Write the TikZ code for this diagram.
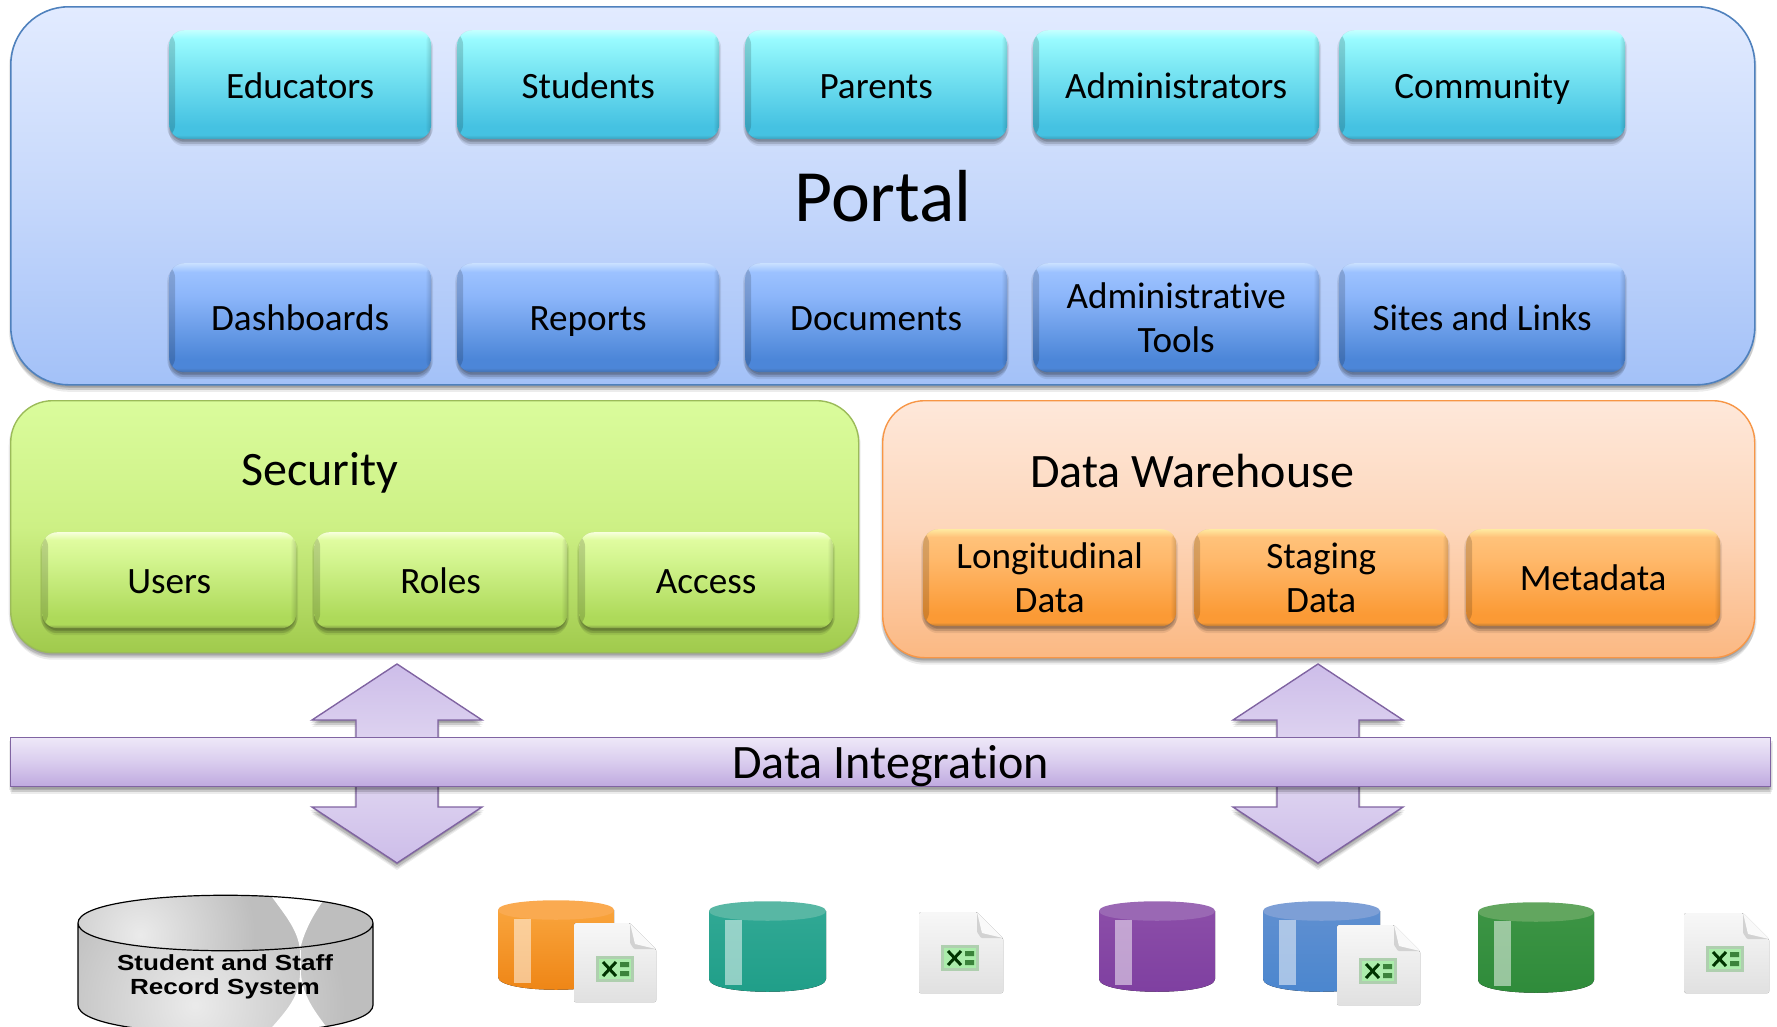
\documentclass[tikz,border=0pt]{standalone}
\usepackage{fontspec}
\setmainfont[Ligatures=NoCommon]{Carlito}
\newfontfamily\arialfont[FakeStretch=1.19]{Liberation Sans}
\usetikzlibrary{shadows,calc,positioning,fadings}
\definecolor{portalA}{HTML}{E2EBFF}\definecolor{portalB}{HTML}{C6D8FB}\definecolor{portalC}{HTML}{A3C1F8}
\pgfdeclareverticalshading{portalshade}{100bp}{color(0bp)=(portalC);color(25bp)=(portalC);color(50bp)=(portalB);color(75bp)=(portalA);color(100bp)=(portalA)}
\newcommand{\boxshade}[6]{%
 \definecolor{#1a}{HTML}{#2}\definecolor{#1b}{HTML}{#3}\definecolor{#1c}{HTML}{#4}\definecolor{#1d}{HTML}{#5}\definecolor{#1e}{HTML}{#6}%
 \pgfdeclareverticalshading{#1}{100bp}{color(0bp)=(#1e);color(25bp)=(#1e);color(27bp)=(#1d);color(31bp)=(#1d);color(60bp)=(#1c);color(71bp)=(#1b);color(75bp)=(#1a);color(100bp)=(#1a)}}
\boxshade{cyanshade}{C4FFFF}{99FBFF}{80EAF5}{45C2E2}{3BA0BC}
\boxshade{blueshade}{C9E0FF}{9CC2FF}{8CB6FA}{4C86D8}{4270AE}
\boxshade{greenshade}{F8FFDC}{E0FCA0}{D2F48E}{AEDA5A}{809C44}
\boxshade{orangeshade}{FFE9A0}{FFC27A}{FFB96C}{FB9A35}{B87A36}
\definecolor{secA}{HTML}{DAFC9C}\definecolor{secB}{HTML}{CDF085}\definecolor{secC}{HTML}{A0CA4C}
\pgfdeclareverticalshading{secshade}{100bp}{color(0bp)=(secC);color(25bp)=(secC);color(50bp)=(secB);color(75bp)=(secA);color(100bp)=(secA)}
\definecolor{dwA}{HTML}{FEE8DA}\definecolor{dwB}{HTML}{FDD6BA}\definecolor{dwC}{HTML}{FBB882}
\pgfdeclareverticalshading{dwshade}{100bp}{color(0bp)=(dwC);color(25bp)=(dwC);color(50bp)=(dwB);color(75bp)=(dwA);color(100bp)=(dwA)}
\definecolor{barA}{HTML}{EEE8F8}\definecolor{barB}{HTML}{D9CCEE}\definecolor{barC}{HTML}{BFA9DF}
\pgfdeclareverticalshading{barshade}{100bp}{color(0bp)=(barC);color(25bp)=(barC);color(50bp)=(barB);color(75bp)=(barA);color(100bp)=(barA)}
\definecolor{arrowA}{HTML}{CDBDE9}\definecolor{arrowB}{HTML}{E2D9F2}
\pgfdeclareverticalshading{arrowshade}{100bp}{color(0bp)=(arrowA);color(25bp)=(arrowA);color(50bp)=(arrowB);color(75bp)=(arrowA);color(100bp)=(arrowA)}
\definecolor{edgeArrow}{HTML}{8064A2}
\definecolor{portalEdge}{HTML}{4F81BD}
\definecolor{secEdge}{HTML}{9BBB59}
\definecolor{dwEdge}{HTML}{F79646}
\definecolor{cylgray}{HTML}{BEBEBE}
\newcommand{\tstrut}{\rule[-8pt]{0pt}{44pt}}
\newcommand{\ustrut}{\rule[-9pt]{0pt}{44pt}}
\tikzset{
 softlayer/.style 2 args={general shadow={shadow xshift=#1,shadow yshift=#2,fill=black,opacity=.075}},
 softshadow/.style={softlayer={0pt}{-2pt},softlayer={-2pt}{-3pt},softlayer={2pt}{-3pt},softlayer={-1pt}{-5pt},softlayer={1pt}{-5pt},softlayer={0pt}{-7pt}},
 panel/.style={rectangle,rounded corners=58pt,anchor=north west,inner sep=0pt,softshadow},
 tile/.style={rectangle,rounded corners=15pt,anchor=north west,inner sep=0pt,align=center,
   font=\fontsize{37.3}{44}\selectfont,softshadow,
   path picture={
     \fill[black,opacity=.16,path fading=east] (path picture bounding box.south west) rectangle ([xshift=6pt]path picture bounding box.north west);
     \fill[black,opacity=.16,path fading=west] (path picture bounding box.south east) rectangle ([xshift=-6pt]path picture bounding box.north east);
   }},
 cyantile/.style={tile,shading=cyanshade},
 bluetile/.style={tile,shading=blueshade},
 greentile/.style={tile,shading=greenshade},
 orangetile/.style={tile,shading=orangeshade},
 headline/.style={font=\fontsize{48.2}{54}\selectfont,anchor=base},
}
\newcommand{\tilebox}[7]{% style,name,x0,y0,x1,y1,text
 \node[#1,minimum width=#5bp-#3bp,minimum height=#6bp-#4bp] (#2) at (#3,#4) {#7};}
% coloured drum: x0 x1 ytop ybot, bottom colour, upper colour, top colour
\newcommand{\drum}[7]{%
 \definecolor{drumL}{HTML}{#5}\definecolor{drumR}{HTML}{#6}\definecolor{drumT}{HTML}{#7}%
 \fill[top color=drumR,bottom color=drumL]
   (#1,#3+10) -- (#1,#4-13) .. controls (#1,#4+4) and (#2,#4+4) .. (#2,#4-13) -- (#2,#3+10) -- cycle;
 \fill[drumT] (#1,#3+10) .. controls (#1,#3-3) and (#2,#3-3) .. (#2,#3+10)
   .. controls (#2,#3+23) and (#1,#3+23) .. (#1,#3+10) -- cycle;
 \fill[white,opacity=.5] (#1+16,#3+19) rectangle (#1+33,#4-7);
}
% file icon: x0 y0 x1 y1
\newcommand{\xlfile}[4]{%
 \fill[top color=gray!6,bottom color=gray!24,rounded corners=1.5pt]
   (#1,#2) -- (#3-26,#2) -- (#3,#2+26) -- (#3,#4) -- (#1,#4) -- cycle;
 \fill[gray!35,rounded corners=1pt] (#3-26,#2) -- (#3-26,#2+20) -- (#3-22,#2+26) -- (#3,#2+26) -- cycle;
 \fill[gray!5] (#3-26,#2) -- (#3-21,#2+21) -- (#3,#2+26) -- cycle;
 \fill[green!25!gray!50] (#1+22,#2+33) rectangle (#1+60,#2+59);
 \fill[green!30!white!85!gray] (#1+25,#2+36) rectangle (#1+57,#2+56);
 \draw[green!20!black,line width=3pt] (#1+29,#2+39) -- (#1+42,#2+53) (#1+42,#2+39) -- (#1+29,#2+53);
 \fill[green!30!black,opacity=.65] (#1+46,#2+39) rectangle (#1+55,#2+44) (#1+46,#2+48) rectangle (#1+55,#2+53);
}
\begin{document}
\begin{tikzpicture}[x=1bp,y=-1bp]
% Portal
\tilebox{panel,shading=portalshade,draw=portalEdge,line width=1.6pt}{portal}{10}{6}{1754}{384}{}
\tilebox{cyantile}{educators}{169}{30}{431}{139}{\tstrut Educators}
\tilebox{cyantile}{students}{457}{30}{719}{139}{\tstrut Students}
\tilebox{cyantile}{parents}{745}{30}{1007}{139}{\tstrut Parents}
\tilebox{cyantile}{admins}{1033}{30}{1319}{139}{\tstrut Administrators}
\tilebox{cyantile}{community}{1339}{30}{1625}{139}{\tstrut Community}
\node[font=\fontsize{74}{80}\selectfont,anchor=base] (portaltitle) at (883,221) {Portal};
\tilebox{bluetile}{dashboards}{169}{263}{431}{372}{\ustrut Dashboards}
\tilebox{bluetile}{reports}{457}{263}{719}{372}{\ustrut Reports}
\tilebox{bluetile}{documents}{745}{263}{1007}{372}{\ustrut Documents}
\tilebox{bluetile}{admintools}{1033}{263}{1319}{372}{\ustrut Administrative\\\ustrut Tools}
\tilebox{bluetile}{sites}{1339}{263}{1625}{372}{\ustrut Sites and Links}
% Security
\tilebox{panel,rounded corners=42pt,shading=secshade,draw=secEdge,line width=1.4pt}{security}{10}{400}{858}{652}{}
\node[headline] (sectitle) at (320,485) {Security};
\tilebox{greentile}{users}{42}{532}{296}{628}{\ustrut Users}
\tilebox{greentile}{roles}{314}{532}{567}{628}{\ustrut Roles}
\tilebox{greentile}{access}{579}{532}{833}{628}{\ustrut Access}
% Data Warehouse
\tilebox{panel,rounded corners=42pt,shading=dwshade,draw=dwEdge,line width=1.4pt}{warehouse}{882}{400}{1754}{657}{}
\node[headline] (dwtitle) at (1192,487) {Data Warehouse};
\tilebox{orangetile}{longitudinal}{923}{529}{1176}{626}{\ustrut Longitudinal\\\ustrut Data}
\tilebox{orangetile}{staging}{1194}{529}{1448}{626}{\ustrut Staging\\\ustrut Data}
\tilebox{orangetile}{metadata}{1466}{529}{1720}{626}{\ustrut Metadata}
% Double arrows
\foreach \cx in {397,1318}{
 \filldraw[shading=arrowshade,draw=edgeArrow,line width=1.4pt,softshadow]
  (\cx,664) -- (\cx+85,720) -- (\cx+41,720) -- (\cx+41,807) -- (\cx+85,807) -- (\cx,863)
  -- (\cx-85,807) -- (\cx-41,807) -- (\cx-41,720) -- (\cx-85,720) -- cycle;
}
\tilebox{panel,rounded corners=0pt,shading=barshade,draw=edgeArrow,line width=1.4pt}{integration}{10}{737}{1770}{786}{}
\node[headline] (intlabel) at (890.5,778) {Data Integration};
% Gray cylinder
\begin{scope}
\clip (0,880) rectangle (1777,1026);
\fill[cylgray]
  (78,923) .. controls (78,886) and (373,886) .. (373,923) -- (373,1005)
  .. controls (373,1043) and (78,1043) .. (78,1005) -- cycle;
\begin{scope}
 \clip (78,923) -- (78,1005) .. controls (78,1043) and (373,1043) .. (373,1005) -- (373,923) -- cycle;
 \shade[inner color=white!92!black,outer color=cylgray] (195,1005) circle[radius=150];
\end{scope}
\begin{scope}
 \clip (78,923) .. controls (78,886) and (373,886) .. (373,923) .. controls (373,960) and (78,960) .. (78,923) -- cycle;
 \fill[cylgray] (78,880) rectangle (373,960);
 \shade[inner color=white!92!black,outer color=cylgray] (140,935) circle[radius=115];
\end{scope}
\fill[white] (272,897) .. controls (285,915) and (298,930) .. (300,950)
  .. controls (304,930) and (316,910) .. (326,897) -- cycle;
\fill[white] (300,975) .. controls (299,1000) and (282,1015) .. (268,1032) -- (330,1032)
  .. controls (318,1015) and (304,1000) .. (301,975) -- cycle;
\draw[white,line width=.8pt] (300,950) -- (300,985);
\draw[black,line width=1.2pt]
  (78,923) .. controls (78,886) and (373,886) .. (373,923) .. controls (373,960) and (78,960) .. (78,923) -- cycle
  (78,923) -- (78,1005) .. controls (78,1043) and (373,1043) .. (373,1005) -- (373,923);
\end{scope}
\node[font=\arialfont\bfseries\fontsize{22}{24}\selectfont,align=center] (recordsys) at (225,977) {Student and Staff\\Record System};
% Coloured cylinders and files
\drum{498}{614}{900}{990}{EE8414}{F9A43C}{FAAA50}
\xlfile{574}{923}{656}{1002}
\drum{709}{826}{901}{992}{1F9E88}{30A894}{58B7A4}
\xlfile{919}{912}{1003}{993}
\drum{1099}{1215}{901}{992}{7E3FA0}{8B4DA8}{9A68B4}
\drum{1263}{1380}{901}{992}{4A86CF}{5F8FD0}{7D9FD6}
\xlfile{1337}{925}{1420}{1005}
\drum{1478}{1594}{902}{993}{2E8B3A}{3C9444}{62A65F}
\xlfile{1684}{913}{1769}{993}
\pgfresetboundingbox
\useasboundingbox (0,0) rectangle (1777,1026);
\end{tikzpicture}
\end{document}
